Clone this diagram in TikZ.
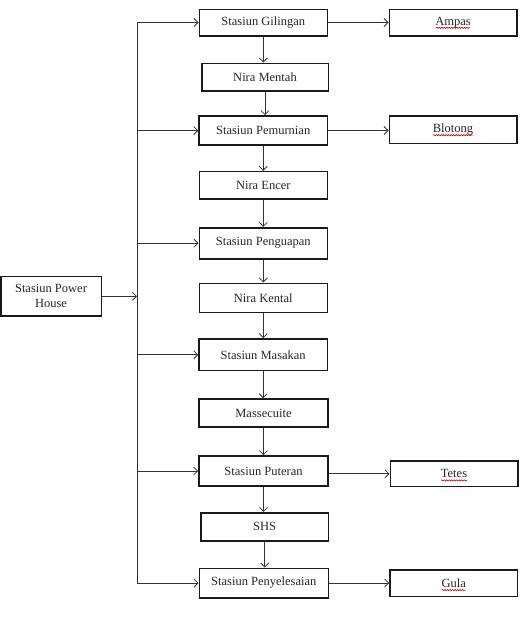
\documentclass[tikz,border=0pt]{standalone}
\usepackage{fontspec}
\setmainfont{Liberation Serif}
\usetikzlibrary{arrows.meta,decorations.pathmorphing}
\begin{document}
\begin{tikzpicture}[x=1pt,y=-1pt,
  box/.style={draw=black!90,line width=1.6pt,inner sep=0pt,align=center,
    font=\fontsize{12.5}{15}\selectfont,text=black!85},
  conn/.style={draw=black!80,line width=0.8pt},
  arr/.style={conn,-{Straight Barb[length=4pt,width=8pt,line width=0.8pt]}},
  squig/.style={draw=red!80!black,line width=0.6pt,decorate,
    decoration={snake,amplitude=0.6pt,segment length=2.5pt}}]
\useasboundingbox (0,0) rectangle (527,624);
% main column
\node[box,minimum width=128pt,minimum height=26.4pt] (gil) at (263.3,22.5) {Stasiun Gilingan};
\node[box,minimum width=126.6pt,minimum height=27.7pt] (nm) at (265,77.2) {Nira Mentah};
\node[box,minimum width=128.3pt,minimum height=29pt] (pem) at (263.2,130.5) {Stasiun Pemurnian};
\node[box,minimum width=128pt,minimum height=27.3pt] (ne) at (263.3,185.3) {Nira Encer};
\node[box,minimum width=128pt,minimum height=31pt] (peng) at (263.3,243.2) {Stasiun Penguapan};
\node[box,minimum width=128pt,minimum height=29pt] (nk) at (263.3,297.8) {Nira Kental};
\node[box,minimum width=128.3pt,minimum height=31.7pt] (mas) at (263.2,354.8) {Stasiun Masakan};
\node[box,minimum width=129pt,minimum height=28pt] (mc) at (263.5,413) {Massecuite};
\node[box,minimum width=129pt,minimum height=30pt] (put) at (263.5,471) {Stasiun Puteran};
\node[box,minimum width=127.3pt,minimum height=28pt] (shs) at (264.7,526.7) {SHS};
\node[box,minimum width=129pt,minimum height=29.4pt] (pny) at (263.8,583) {Stasiun Penyelesaian};
% outputs
\node[box,minimum width=127.4pt,minimum height=26.4pt] (amp) at (453,22.5) {Ampas};
\node[box,minimum width=127.4pt,minimum height=27.3pt] (blo) at (453,129.7) {Blotong};
\node[box,minimum width=127.4pt,minimum height=25.7pt] (tet) at (454,473.8) {Tetes};
\node[box,minimum width=127.7pt,minimum height=26.7pt] (gul) at (453.8,583.3) {Gula};
% power house
\node[box,minimum width=100.6pt,minimum height=39.3pt] (ph) at (51,296.3) {Stasiun Power\\House};
% spell-check squiggles
\draw[squig] ([xshift=-17pt,yshift=-2.5pt]amp.base) -- ([xshift=17pt,yshift=-2.5pt]amp.base);
\draw[squig] ([xshift=-20pt,yshift=-2.5pt]blo.base) -- ([xshift=20pt,yshift=-2.5pt]blo.base);
\draw[squig] ([xshift=-13pt,yshift=-2.5pt]tet.base) -- ([xshift=13pt,yshift=-2.5pt]tet.base);
\draw[squig] ([xshift=-12pt,yshift=-2.5pt]gul.base) -- ([xshift=12pt,yshift=-2.5pt]gul.base);
% vertical flow
\foreach \a/\b in {gil/nm,nm/pem,pem/ne,ne/peng,peng/nk,nk/mas,mas/mc,mc/put,put/shs,shs/pny}
  \draw[arr] (\a.south) -- (\a.south |- \b.north);
% side outputs
\draw[arr] (gil.east) -- (amp.west |- gil.east);
\draw[arr] (pem.east) -- (blo.west |- pem.east);
\draw[arr] (put.east |- tet.west) -- (tet.west);
\draw[arr] (pny.east) -- (gul.west |- pny.east);
% bus
\coordinate (bus) at (137,0);
\draw[conn] (bus |- gil.west) -- (bus |- pny.west);
\draw[arr] (ph.east) -- (bus |- ph.east);
\foreach \s in {gil,pem,peng,mas,put,pny}
  \draw[arr] (bus |- \s.west) -- (\s.west);
\end{tikzpicture}
\end{document}
